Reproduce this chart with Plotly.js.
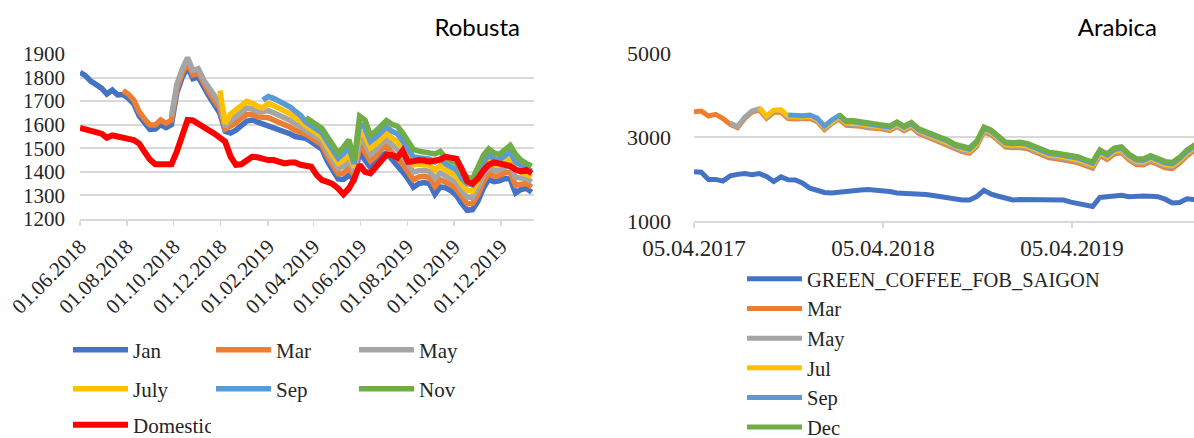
<!DOCTYPE html>
<html><head><meta charset="utf-8">
<script src="https://cdn.plot.ly/plotly-3.0.1.min.js"></script>
<style>
html,body{margin:0;padding:0;background:#fff;overflow:hidden;width:1194px;height:438px;}
#robusta{position:absolute;left:0;top:0;width:600px;height:438px;}
#clip{position:absolute;left:624px;top:0;width:570px;height:438px;overflow:hidden;}
#arabica{position:absolute;left:-24px;top:0;width:620px;height:438px;}
</style></head><body>
<div id="robusta"></div>
<div id="clip"><div id="arabica"></div></div>
<script>
// ---------- Robusta (weekly readings) ----------
const robustaDates = [
'2018-06-01','2018-06-08','2018-06-15','2018-06-22','2018-06-29','2018-07-06','2018-07-13','2018-07-20','2018-07-27','2018-08-03',
'2018-08-10','2018-08-17','2018-08-24','2018-08-31','2018-09-07','2018-09-14','2018-09-21','2018-09-28','2018-10-05','2018-10-12',
'2018-10-19','2018-10-26','2018-11-02','2018-11-09','2018-11-16','2018-11-23','2018-11-30','2018-12-07','2018-12-14','2018-12-21',
'2018-12-28','2019-01-04','2019-01-11','2019-01-18','2019-01-25','2019-02-01','2019-02-08','2019-02-15','2019-02-22','2019-03-01',
'2019-03-08','2019-03-15','2019-03-22','2019-03-29','2019-04-05','2019-04-12','2019-04-19','2019-04-26','2019-05-03','2019-05-10',
'2019-05-17','2019-05-24','2019-05-31','2019-06-07','2019-06-14','2019-06-21','2019-06-28','2019-07-05','2019-07-12','2019-07-19',
'2019-07-26','2019-08-02','2019-08-09','2019-08-16','2019-08-23','2019-08-30','2019-09-06','2019-09-13','2019-09-20','2019-09-27',
'2019-10-04','2019-10-11','2019-10-18','2019-10-25','2019-11-01','2019-11-08','2019-11-15','2019-11-22','2019-11-29','2019-12-06',
'2019-12-13','2019-12-20','2019-12-27','2020-01-03','2020-01-10'];

const robJan = [
1822,1808,1785,1771,1755,1730,1747,1726,1728,1712,
1688,1638,1606,1580,1582,1600,1588,1600,1735,1800,
1845,1795,1802,1755,1720,1685,1650,1572,1565,1577,
1600,1615,1620,1612,1608,1600,1590,1582,1574,1562,
1550,1546,1542,1528,1512,1496,1445,1410,1370,1368,
1385,1370,1484,1450,1420,1440,1470,1480,1455,1430,
1400,1370,1335,1350,1355,1350,1305,1336,1332,1320,
1300,1265,1237,1240,1275,1330,1368,1358,1362,1372,
1370,1310,1325,1330,1314];

const robMar = [
null,null,null,null,null,null,null,null,1745,1729,
1705,1655,1624,1599,1599,1620,1606,1620,1752,1818,
1862,1812,1820,1772,1737,1702,1670,1582,1592,1606,
1628,1643,1644,1634,1632,1630,1620,1612,1603,1590,
1577,1570,1560,1545,1530,1514,1466,1430,1392,1395,
1415,1386,1514,1484,1447,1466,1495,1508,1484,1463,
1433,1401,1367,1378,1381,1376,1339,1366,1358,1346,
1327,1292,1265,1266,1304,1358,1394,1382,1384,1396,
1398,1343,1350,1351,1336];

const robMay = [
null,null,null,null,null,null,null,null,null,null,
null,null,null,null,null,null,null,1635,1770,1835,
1885,1830,1838,1790,1755,1720,1690,1592,1618,1635,
1657,1671,1668,1656,1656,1660,1651,1641,1632,1619,
1604,1593,1577,1562,1547,1531,1486,1450,1414,1423,
1445,1402,1545,1518,1474,1493,1519,1535,1514,1496,
1466,1432,1399,1405,1407,1402,1373,1396,1383,1371,
1354,1319,1293,1292,1333,1386,1420,1407,1407,1419,
1427,1376,1375,1372,1358];

const robJuly = [
null,null,null,null,null,null,null,null,null,null,
null,null,null,null,null,null,null,null,null,null,
null,null,null,null,null,null,1745,1605,1645,1664,
1685,1699,1692,1678,1672,1690,1681,1671,1661,1647,
1631,1617,1595,1578,1565,1549,1507,1470,1436,1450,
1476,1418,1575,1552,1502,1519,1544,1563,1543,1528,
1499,1463,1431,1433,1432,1428,1408,1427,1409,1397,
1382,1346,1322,1318,1362,1414,1446,1431,1429,1443,
1455,1409,1400,1394,1381];

const robSep = [
null,null,null,null,null,null,null,null,null,null,
null,null,null,null,null,null,null,null,null,null,
null,null,null,null,null,null,null,null,null,null,
null,null,null,null,1705,1720,1712,1700,1690,1676,
1658,1640,1612,1595,1582,1566,1527,1490,1458,1478,
1506,1434,1606,1586,1529,1546,1568,1590,1573,1561,
1532,1494,1463,1460,1458,1454,1442,1457,1434,1422,
1409,1373,1350,1344,1391,1442,1472,1456,1452,1466,
1484,1442,1425,1415,1403];

const robNov = [
null,null,null,null,null,null,null,null,null,null,
null,null,null,null,null,null,null,null,null,null,
null,null,null,null,null,null,null,null,null,null,
null,null,null,null,null,null,null,null,null,null,
null,null,1630,1612,1600,1584,1548,1510,1480,1505,
1536,1450,1636,1620,1556,1572,1593,1618,1602,1594,
1565,1525,1495,1488,1484,1480,1476,1487,1460,1448,
1436,1400,1378,1370,1420,1470,1498,1480,1474,1490,
1512,1475,1450,1436,1425];

const robDomestic = [
1587,1580,1573,1568,1562,1545,1555,1550,1542,1540,
1535,1520,1485,1452,1432,1432,1432,1432,1486,1564,
1620,1618,1605,1595,1580,1562,1545,1528,1465,1430,
1432,1450,1464,1462,1455,1450,1450,1442,1436,1440,
1440,1430,1425,1422,1387,1365,1358,1348,1330,1305,
1330,1370,1430,1400,1394,1420,1450,1472,1472,1460,
1490,1443,1445,1450,1448,1443,1448,1452,1464,1462,
1456,1412,1360,1350,1372,1405,1430,1440,1436,1430,
1425,1410,1402,1408,1394];

// ---------- Arabica (two-weekly readings) ----------
const arabicaDates = [
'2017-04-05','2017-04-19','2017-05-03','2017-05-17','2017-05-31','2017-06-14','2017-06-28','2017-07-12','2017-07-26','2017-08-09',
'2017-08-23','2017-09-06','2017-09-20','2017-10-04','2017-10-18','2017-11-01','2017-11-15','2017-11-29','2017-12-13','2017-12-27',
'2018-01-10','2018-01-24','2018-02-07','2018-02-21','2018-03-07','2018-03-21','2018-04-04','2018-04-18','2018-05-02','2018-05-16',
'2018-05-30','2018-06-13','2018-06-27','2018-07-11','2018-07-25','2018-08-08','2018-08-22','2018-09-05','2018-09-19','2018-10-03',
'2018-10-17','2018-10-31','2018-11-14','2018-11-28','2018-12-12','2018-12-26','2019-01-09','2019-01-23','2019-02-06','2019-02-20',
'2019-03-06','2019-03-20','2019-04-03','2019-04-17','2019-05-01','2019-05-15','2019-05-29','2019-06-12','2019-06-26','2019-07-10',
'2019-07-24','2019-08-07','2019-08-21','2019-09-04','2019-09-18','2019-10-02','2019-10-16','2019-10-30','2019-11-13','2019-11-27',
'2019-12-11'];

const araFob = [
2174,2160,1990,1990,1950,2075,2110,2130,2100,2130,
2060,1940,2050,1980,1975,1900,1780,1715,1680,1665,
1690,1700,1710,1738,1748,1742,1730,1700,1665,1660,
1660,1660,1630,1605,1578,1550,1520,1500,1500,1580,
1730,1640,1590,1530,1500,1510,1505,1512,1505,1500,
1495,1500,1450,1410,1375,1345,1560,1585,1595,1610,
1580,1595,1595,1590,1578,1520,1430,1440,1530,1510,
1500];

const araMar = [
3602,3620,3500,3540,3440,3302,3222,3442,3592,3644,
3444,3584,3594,3440,3426,3421,3440,3366,3176,3321,
3428,3278,3278,3253,3218,3214,3188,3150,3246,3148,
3236,3088,3016,2950,2880,2810,2710,2652,2612,2772,
3120,3050,2910,2760,2742,2752,2722,2652,2572,2504,
2484,2464,2424,2386,2316,2258,2556,2464,2596,2626,
2456,2346,2336,2416,2346,2268,2248,2376,2546,2674,
2714];

const araMay = [
null,null,null,null,null,3330,3250,3470,3620,3672,
3472,3612,3622,3468,3454,3449,3468,3394,3204,3349,
3456,3306,3306,3281,3246,3242,3216,3178,3274,3176,
3264,3116,3044,2980,2910,2840,2740,2684,2644,2804,
3150,3080,2940,2790,2774,2784,2754,2684,2604,2538,
2518,2498,2458,2422,2352,2296,2592,2498,2632,2662,
2492,2382,2372,2452,2382,2306,2286,2412,2582,2708,
2748];

const araJul = [
null,null,null,null,null,null,null,null,null,3700,
3500,3640,3650,3496,3482,3477,3496,3422,3232,3377,
3484,3334,3334,3309,3274,3270,3244,3206,3302,3204,
3292,3144,3072,3010,2940,2870,2770,2716,2676,2836,
3180,3110,2970,2820,2806,2816,2786,2716,2636,2572,
2552,2532,2492,2458,2388,2334,2628,2532,2668,2698,
2528,2418,2408,2488,2418,2344,2324,2448,2618,2742,
2782];

const araSep = [
null,null,null,null,null,null,null,null,null,null,
null,null,null,3524,3510,3505,3524,3450,3260,3405,
3510,3362,3362,3337,3302,3298,3272,3234,3330,3232,
3320,3172,3100,3040,2970,2900,2800,2748,2708,2868,
3210,3140,3000,2850,2838,2848,2818,2748,2668,2606,
2586,2566,2526,2494,2424,2372,2664,2566,2704,2734,
2564,2454,2444,2524,2454,2382,2362,2484,2654,2776,
2816];

const araDec = [
null,null,null,null,null,null,null,null,null,null,
null,null,null,null,null,null,null,null,null,null,
3540,3390,3390,3365,3330,3326,3300,3262,3360,3260,
3350,3200,3130,3070,3000,2930,2830,2780,2740,2900,
3240,3170,3030,2880,2870,2880,2850,2780,2700,2640,
2620,2600,2560,2530,2460,2410,2700,2600,2740,2770,
2600,2490,2480,2560,2490,2420,2400,2520,2690,2810,
2850];

// ---------- styling ----------
const C = {blue:'#4472C4', orange:'#ED7D31', grey:'#A5A5A5', gold:'#FFC000', lblue:'#5B9BD5', green:'#70AD47', red:'#FF0000'};
const serif = 'Liberation Serif, Times New Roman, serif';
const txt = '#262626';
const grid = '#D9D9D9';

function line(x, y, name, color, legend, w) {
  return {type:'scatter', mode:'lines', x:x, y:y, name:name, legend:legend,
          line:{color:color, width:w}, hoverinfo:'skip'};
}

function rowLegend(yPx, xPx, W) {
  return {orientation:'h', xref:'container', yref:'container', x:xPx/W, y:1-yPx/438,
          xanchor:'left', yanchor:'middle', entrywidth:73, itemwidth:55,
          bgcolor:'rgba(0,0,0,0)', borderwidth:0,
          font:{family:serif, size:21, color:txt}};
}

// Robusta
const wR = 5.5;
const robTraces = [
  line(robustaDates, robJan, 'Jan', C.blue, 'legend', wR),
  line(robustaDates, robMar, 'Mar', C.orange, 'legend', wR),
  line(robustaDates, robMay, 'May', C.grey, 'legend', wR),
  line(robustaDates, robJuly, 'July', C.gold, 'legend2', wR),
  line(robustaDates, robSep, 'Sep', C.lblue, 'legend2', wR),
  line(robustaDates, robNov, 'Nov', C.green, 'legend2', wR),
  line(robustaDates, robDomestic, 'Domestic', C.red, 'legend3', 6)
];

const robLayout = {
  width:600, height:438,
  margin:{l:80, r:66, t:54, b:219},
  paper_bgcolor:'#fff', plot_bgcolor:'#fff',
  showlegend:true,
  title:{text:'Robusta', font:{family:'Lato, Carlito, sans-serif', size:24, color:'#000'},
         xref:'container', yref:'container', x:520/600, xanchor:'right', y:1-28/438, yanchor:'middle'},
  xaxis:{type:'date', range:['2018-06-01','2020-01-13'], tick0:'2018-06-01', dtick:'M2',
         tickformat:'%d.%m.%Y', tickangle:-45, showgrid:false, zeroline:false,
         showline:true, linecolor:grid, linewidth:2,
         ticks:'outside', ticklen:5, tickcolor:grid, tickwidth:1.5,
         tickfont:{family:serif, size:21, color:txt}},
  yaxis:{range:[1200,1900], dtick:100, tick0:1200, showgrid:true, gridcolor:grid, gridwidth:2,
         zeroline:false, showline:false, ticks:'', ticklabelstandoff:14,
         tickfont:{family:serif, size:21, color:txt}},
  legend: rowLegend(350, 68, 600),
  legend2: rowLegend(389, 68, 600),
  legend3: rowLegend(425, 68, 600)
};

// Arabica
const wA = 5;
const araTraces = [
  line(arabicaDates, araFob, 'GREEN_COFFEE_FOB_SAIGON', C.blue, 'legend', wA),
  line(arabicaDates, araMar, 'Mar', C.orange, 'legend', wA),
  line(arabicaDates, araMay, 'May', C.grey, 'legend', wA),
  line(arabicaDates, araJul, 'Jul', C.gold, 'legend', wA),
  line(arabicaDates, araSep, 'Sep', C.lblue, 'legend', wA),
  line(arabicaDates, araDec, 'Dec', C.green, 'legend', wA)
];

// plot area spans x 94..606 of this 620px-wide div
const araLayout = {
  width:620, height:438,
  margin:{l:94, r:14, t:53, b:217},
  paper_bgcolor:'#fff', plot_bgcolor:'#fff',
  showlegend:true,
  title:{text:'Arabica', font:{family:'Lato, Carlito, sans-serif', size:24, color:'#000'},
         xref:'container', yref:'container', x:557/620, xanchor:'right', y:1-28/438, yanchor:'middle'},
  xaxis:{type:'date', range:['2017-04-05','2019-12-20'], tick0:'2017-04-05', dtick:'M12',
         tickformat:'%d.%m.%Y', tickangle:0, showgrid:false, zeroline:false,
         showline:true, linecolor:grid, linewidth:2,
         ticks:'outside', ticklen:5, tickcolor:grid, tickwidth:1.5, ticklabelstandoff:0,
         tickfont:{family:serif, size:23, color:txt}},
  yaxis:{range:[1000,5000], dtick:2000, tick0:1000, showgrid:true, gridcolor:grid, gridwidth:2,
         zeroline:false, showline:false, ticks:'', ticklabelstandoff:22,
         tickfont:{family:serif, size:22, color:txt}},
  legend:{orientation:'v', xref:'paper', yref:'container', x:(142-94)/512, y:1-259/438,
          xanchor:'left', yanchor:'top', itemwidth:55, tracegroupgap:0,
          bgcolor:'rgba(0,0,0,0)', borderwidth:0,
          font:{family:serif, size:20.5, color:txt}}
};

const cfg = {staticPlot:true, displayModeBar:false};
Plotly.newPlot('robusta', robTraces, robLayout, cfg);
Plotly.newPlot('arabica', araTraces, araLayout, cfg);
</script>
</body></html>
